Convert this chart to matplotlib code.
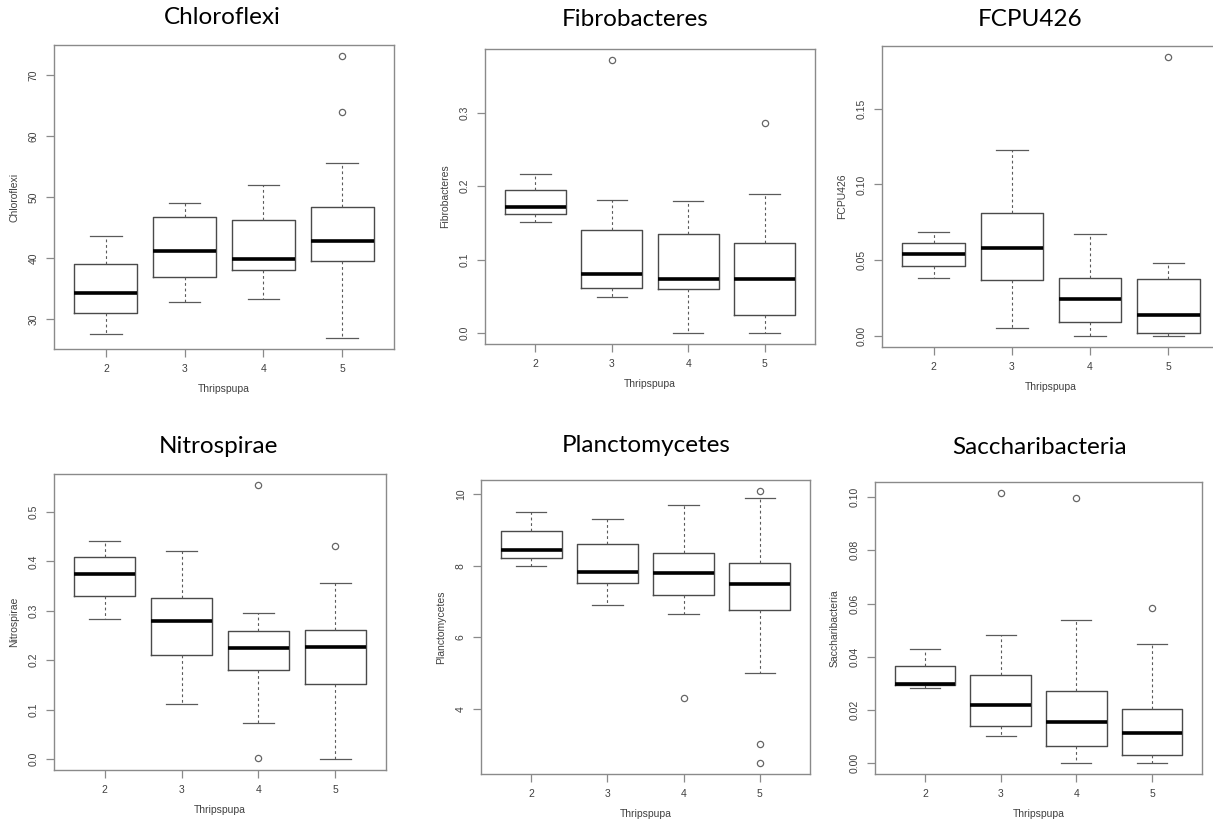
import matplotlib
matplotlib.use("Agg")
import matplotlib.pyplot as plt

plt.rcParams["font.family"] = ["Liberation Sans", "DejaVu Sans"]

W, H = 1213, 825

groups = ["2", "3", "4", "5"]
x_label = "Thripspupa"

# five-number stats per group: [whisker low, Q1, median, Q3, whisker high]
chloroflexi_stats = [[27.5, 30.9, 34.3, 39.0, 43.6],
                     [32.7, 36.8, 41.2, 46.7, 49.0],
                     [33.2, 38.1, 39.9, 46.3, 52.0],
                     [26.9, 39.5, 42.8, 48.4, 55.5]]
chloroflexi_out = [[], [], [], [73.1, 64.0]]

fibrobacteres_stats = [[0.151, 0.162, 0.172, 0.194, 0.216],
                       [0.0485, 0.0616, 0.081, 0.140, 0.181],
                       [0.0, 0.060, 0.073, 0.135, 0.180],
                       [0.0, 0.024, 0.0739, 0.122, 0.189]]
fibrobacteres_out = [[], [0.3716], [], [0.2864]]

fcpu426_stats = [[0.0384, 0.0461, 0.0543, 0.0613, 0.0684],
                 [0.0051, 0.0366, 0.058, 0.081, 0.1229],
                 [0.0, 0.0093, 0.0245, 0.0382, 0.0673],
                 [0.0, 0.0018, 0.0137, 0.0377, 0.0483]]
fcpu426_out = [[], [], [], [0.184]]

nitrospirae_stats = [[0.283, 0.329, 0.3745, 0.408, 0.442],
                     [0.112, 0.2105, 0.280, 0.325, 0.421],
                     [0.0735, 0.181, 0.224, 0.259, 0.295],
                     [0.0, 0.1525, 0.226, 0.261, 0.3556]]
nitrospirae_out = [[], [], [0.5547, 0.0027], [0.4305]]

planctomycetes_stats = [[8.003, 8.217, 8.43, 8.96, 9.498],
                        [6.907, 7.52, 7.836, 8.616, 9.31],
                        [6.656, 7.176, 7.80, 8.347, 9.693],
                        [5.003, 6.777, 7.483, 8.068, 9.888]]
planctomycetes_out = [[], [], [4.306], [10.093, 3.016, 2.486]]

saccharibacteria_stats = [[0.0284, 0.0292, 0.0299, 0.0364, 0.0429],
                          [0.0103, 0.0138, 0.0217, 0.0333, 0.0482],
                          [0.0, 0.0066, 0.0154, 0.0273, 0.0537],
                          [0.0, 0.003, 0.0115, 0.0204, 0.0447]]
saccharibacteria_out = [[], [0.1016], [0.0995], [0.0584]]

chloroflexi_ticks = [30, 40, 50, 60, 70]
fibrobacteres_ticks = [0.0, 0.1, 0.2, 0.3]
fcpu426_ticks = [0.00, 0.05, 0.10, 0.15]
nitrospirae_ticks = [0.0, 0.1, 0.2, 0.3, 0.4, 0.5]
planctomycetes_ticks = [4, 6, 8, 10]
saccharibacteria_ticks = [0.00, 0.02, 0.04, 0.06, 0.08, 0.10]

chloroflexi_labels = ["30", "40", "50", "60", "70"]
fibrobacteres_labels = ["0.0", "0.1", "0.2", "0.3"]
fcpu426_labels = ["0.00", "0.05", "0.10", "0.15"]
nitrospirae_labels = ["0.0", "0.1", "0.2", "0.3", "0.4", "0.5"]
planctomycetes_labels = ["4", "6", "8", "10"]
saccharibacteria_labels = ["0.00", "0.02", "0.04", "0.06", "0.08", "0.10"]

panels = [
    ("Chloroflexi", chloroflexi_stats, chloroflexi_out, chloroflexi_ticks, chloroflexi_labels,
     (54, 394, 45, 349), (222, 18)),
    ("Fibrobacteres", fibrobacteres_stats, fibrobacteres_out, fibrobacteres_ticks, fibrobacteres_labels,
     (485, 815, 49, 344), (635, 19)),
    ("FCPU426", fcpu426_stats, fcpu426_out, fcpu426_ticks, fcpu426_labels,
     (882, 1220, 46, 347), (1030, 20)),
    ("Nitrospirae", nitrospirae_stats, nitrospirae_out, nitrospirae_ticks, nitrospirae_labels,
     (54, 386, 474, 770), (218, 446)),
    ("Planctomycetes", planctomycetes_stats, planctomycetes_out, planctomycetes_ticks, planctomycetes_labels,
     (481, 810, 480, 774), (646, 445)),
    ("Saccharibacteria", saccharibacteria_stats, saccharibacteria_out, saccharibacteria_ticks, saccharibacteria_labels,
     (875, 1202, 482, 774), (1040, 447)),
]

fig = plt.figure(figsize=(W / 100, H / 100), dpi=100)
fig.patch.set_facecolor("white")

edge = "#4a4a4a"
axis_col = "#8a8a8a"
txt_col = "#404040"

for name, stats, outs, ticks, tlabels, (l, r, t, b), (tx, ty) in panels:
    ax = fig.add_axes([l / W, 1 - b / H, (r - l) / W, (b - t) / H])
    bstats = []
    for g, s, o in zip(groups, stats, outs):
        bstats.append(dict(whislo=s[0], q1=s[1], med=s[2], q3=s[3], whishi=s[4],
                           fliers=o, label=g))
    ax.bxp(bstats, positions=[1, 2, 3, 4], widths=0.8, capwidths=0.4,
           boxprops=dict(color=edge, linewidth=1.0),
           medianprops=dict(color="black", linewidth=2.6, solid_capstyle="butt"),
           whiskerprops=dict(color="#5a5a5a", linewidth=0.8, linestyle=(0, (2.5, 2.5))),
           capprops=dict(color="#5a5a5a", linewidth=0.9),
           flierprops=dict(marker="o", markerfacecolor="none", markeredgecolor="#666666",
                           markersize=4.5, markeredgewidth=0.9))
    allv = [v for s in stats for v in s] + [v for o in outs for v in o]
    lo, hi = min(allv), max(allv)
    pad = 0.04 * (hi - lo)
    ax.set_ylim(lo - pad, hi + pad)
    ax.set_xlim(0.34, 4.66)
    ax.set_xticks([1, 2, 3, 4])
    ax.set_xticklabels(groups)
    ax.set_yticks(ticks)
    ax.set_yticklabels(tlabels, rotation=90, va="center")
    for sp in ax.spines.values():
        sp.set_color(axis_col)
        sp.set_linewidth(1.0)
    ax.tick_params(axis="both", colors=axis_col, length=6, width=0.9, labelsize=7.5,
                   labelcolor=txt_col, pad=5)
    ax.set_xlabel(x_label, fontsize=7.5, color=txt_col)
    ax.xaxis.set_label_coords(0.5, -40 / (b - t))
    ax.xaxis.label.set_va("center")
    ax.set_ylabel(name, fontsize=7.5, color=txt_col)
    ax.yaxis.set_label_coords(-40 / (r - l), 0.5)
    ax.yaxis.label.set_va("center")
    fig.text(tx / W, 1 - ty / H, name, ha="center", va="center",
             fontsize=17.5, family="Lato", color="black")

fig.savefig("out.png", dpi=100)
